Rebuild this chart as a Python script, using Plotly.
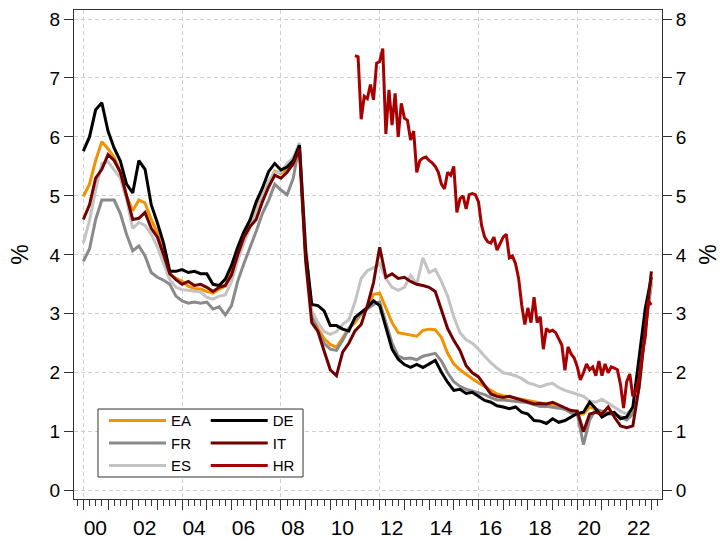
import numpy as np
import plotly.graph_objects as go

# quarterly time index 2000Q1 .. 2023Q1 (decimal years); HR is read at a finer step
t = np.arange(2000, 2023.001, 0.25)
t_hr = np.arange(2011, 2023.001, 0.125)

ea = [4.99, 5.2, 5.6, 5.92, 5.8, 5.65, 5.4, 5.0, 4.75, 4.93, 4.88, 4.6,
      4.37, 4.1, 3.68, 3.6, 3.55, 3.47, 3.43, 3.42, 3.38, 3.35, 3.42, 3.47,
      3.75, 4.05, 4.3, 4.52, 4.8, 5.02, 5.22, 5.42, 5.38, 5.45, 5.52, 5.82,
      4.0, 3.0, 2.75, 2.58, 2.48, 2.43, 2.6, 2.75, 2.85, 3.0, 3.1, 3.33,
      3.35, 3.1, 2.85, 2.68, 2.66, 2.65, 2.62, 2.72, 2.74, 2.73, 2.6, 2.33,
      2.15, 2.05, 1.97, 1.9, 1.83, 1.77, 1.7, 1.64, 1.61, 1.59, 1.57, 1.55,
      1.54, 1.52, 1.5, 1.47, 1.45, 1.42, 1.38, 1.32, 1.3, 1.3, 1.42, 1.38,
      1.3, 1.33, 1.3, 1.25, 1.22, 1.3, 1.9, 2.9, 3.55]

fr = [3.89, 4.1, 4.6, 4.93, 4.93, 4.93, 4.7, 4.35, 4.07, 4.15, 3.98, 3.7,
      3.62, 3.57, 3.5, 3.3, 3.22, 3.18, 3.2, 3.18, 3.2, 3.08, 3.12, 2.98,
      3.14, 3.55, 3.85, 4.12, 4.4, 4.7, 4.92, 5.2, 5.1, 5.02, 5.3, 5.88,
      4.1, 3.0, 2.7, 2.5, 2.4, 2.38, 2.55, 2.75, 2.9, 3.0, 3.08, 3.16,
      3.2, 2.85, 2.5, 2.28, 2.24, 2.25, 2.22, 2.28, 2.3, 2.33, 2.2, 2.0,
      1.85, 1.77, 1.72, 1.69, 1.66, 1.63, 1.58, 1.54, 1.54, 1.53, 1.52, 1.5,
      1.49, 1.46, 1.43, 1.43, 1.42, 1.4, 1.38, 1.32, 1.3, 0.78, 1.2, 1.38,
      1.35, 1.3, 1.3, 1.25, 1.2, 1.3, 1.75, 2.7, 3.5]

es = [4.2, 4.58, 5.1, 5.55, 5.58, 5.45, 5.3, 4.95, 4.45, 4.55, 4.5, 4.35,
      4.13, 3.85, 3.58, 3.45, 3.41, 3.4, 3.38, 3.37, 3.28, 3.25, 3.3, 3.32,
      3.55, 3.9, 4.2, 4.45, 4.72, 5.0, 5.25, 5.4, 5.4, 5.55, 5.65, 5.9,
      4.2, 3.05, 2.85, 2.7, 2.65, 2.7, 2.82, 2.9, 3.2, 3.6, 3.73, 3.78,
      3.85, 3.6, 3.45, 3.4, 3.45, 3.65, 3.5, 3.95, 3.7, 3.75, 3.55, 3.3,
      2.95, 2.68, 2.56, 2.5, 2.4, 2.28, 2.17, 2.08, 2.0, 1.98, 1.95, 1.9,
      1.83, 1.8, 1.76, 1.8, 1.82, 1.75, 1.7, 1.67, 1.64, 1.6, 1.52, 1.5,
      1.55, 1.48, 1.42, 1.35, 1.3, 1.4, 2.0, 2.9, 3.55]

de = [5.76, 6.0, 6.46, 6.58, 6.1, 5.81, 5.59, 5.2, 5.05, 5.6, 5.45, 4.85,
      4.54, 4.2, 3.72, 3.72, 3.75, 3.7, 3.72, 3.68, 3.68, 3.5, 3.48, 3.59,
      3.82, 4.13, 4.39, 4.59, 4.9, 5.13, 5.41, 5.55, 5.44, 5.49, 5.6, 5.86,
      4.07, 3.16, 3.14, 3.05, 2.8, 2.8, 2.74, 2.71, 2.94, 3.02, 3.11, 3.22,
      3.14, 2.77, 2.4, 2.23, 2.14, 2.09, 2.14, 2.09, 2.15, 2.21, 2.01, 1.84,
      1.7, 1.72, 1.65, 1.67, 1.6, 1.53, 1.5, 1.44, 1.42, 1.39, 1.42, 1.33,
      1.3, 1.19, 1.18, 1.14, 1.22, 1.16, 1.19, 1.25, 1.31, 1.33, 1.5, 1.39,
      1.25, 1.31, 1.33, 1.22, 1.25, 1.42, 2.3, 3.08, 3.62]

it = [4.6, 4.85, 5.3, 5.45, 5.7, 5.6, 5.4, 5.0, 4.6, 4.62, 4.72, 4.45,
      4.3, 4.0, 3.68, 3.58, 3.5, 3.55, 3.48, 3.5, 3.45, 3.38, 3.45, 3.48,
      3.66, 4.0, 4.3, 4.48, 4.6, 4.9, 5.15, 5.35, 5.3, 5.4, 5.55, 5.8,
      3.9, 2.85, 2.7, 2.37, 2.05, 1.95, 2.35, 2.5, 2.71, 2.82, 3.14, 3.53,
      4.13, 3.62, 3.68, 3.6, 3.62, 3.55, 3.5, 3.48, 3.45, 3.38, 3.05, 2.75,
      2.55, 2.38, 2.12, 2.0, 1.93, 1.78, 1.64, 1.6, 1.58, 1.6, 1.57, 1.53,
      1.5, 1.47, 1.48, 1.47, 1.5, 1.45, 1.4, 1.36, 1.35, 1.0, 1.3, 1.33,
      1.3, 1.42, 1.25, 1.1, 1.07, 1.1, 1.75, 2.7, 3.72]

hr = [7.38, 7.36, 6.3, 6.69, 6.65, 6.89, 6.63, 7.25,
      7.28, 7.5, 6.05, 6.8, 6.2, 6.74, 6.0, 6.57,
      6.32, 6.28, 5.95, 6.1, 5.4, 5.6, 5.64, 5.66,
      5.6, 5.56, 5.5, 5.4, 5.2, 5.12, 5.4, 5.35,
      5.5, 4.72, 4.95, 5.0, 4.78, 5.02, 5.04, 5.02,
      4.9, 4.5, 4.3, 4.22, 4.2, 4.3, 4.08, 4.2,
      4.3, 4.35, 3.95, 3.98, 3.85, 3.6, 3.15, 2.82,
      3.1, 2.85, 3.28, 2.85, 2.95, 2.4, 2.75, 2.7,
      2.72, 2.68, 2.58, 2.47, 2.04, 2.44, 2.32, 2.25,
      2.1, 1.88, 2.0, 2.15, 2.05, 2.1, 1.95, 2.2,
      1.95, 2.15, 2.0, 2.1, 2.08, 2.05, 1.8, 1.4,
      1.85, 1.98, 1.6, 1.7, 1.9, 2.3, 2.6, 3.22,
      3.15]

years = list(range(2000, 2024))
year_labels = ["%02d" % (y % 100) if (y % 2 == 0 and y <= 2022) else "" for y in years]
grid_years = [2000, 2004, 2008, 2012, 2016, 2020]
y_ticks = list(range(0, 9))

xr = [1999.623, 2023.43]
yr = [-0.141, 8.153]
grid_col = "#cfcfcf"
frame_col = "#333333"

series = [
    ("EA", t, ea, "#f39200", "legend"),
    ("FR", t, fr, "#8a8a8a", "legend"),
    ("ES", t, es, "#c3c3c3", "legend"),
    ("DE", t, de, "#000000", "legend2"),
    ("IT", t, it, "#720000", "legend2"),
    ("HR", t_hr, hr, "#a80000", "legend2"),
]

fig = go.Figure()
# empty helper traces so the grid-only x axis and the right-hand y axis get drawn
fig.add_trace(go.Scatter(x=[], y=[], xaxis="x2", yaxis="y", showlegend=False, hoverinfo="skip"))
fig.add_trace(go.Scatter(x=[], y=[], xaxis="x", yaxis="y2", showlegend=False, hoverinfo="skip"))
for name, x, y, col, leg in series:
    fig.add_trace(go.Scatter(x=x, y=y, mode="lines", name=name, legend=leg,
                             line=dict(color=col, width=3)))

leg_style = dict(xanchor="left", yanchor="top", bgcolor="rgba(0,0,0,0)",
                 borderwidth=0, font=dict(size=15, color="black"),
                 itemwidth=57, tracegroupgap=0)

fig.update_layout(
    width=723, height=538,
    margin=dict(l=74, r=61, t=10, b=39, autoexpand=False),
    paper_bgcolor="white", plot_bgcolor="white",
    font=dict(family="Liberation Sans, Arial, sans-serif", size=19, color="black"),
    xaxis=dict(range=xr, tickmode="array", tickvals=years, ticktext=year_labels,
               ticks="outside", ticklen=10, tickcolor=frame_col, ticklabelshift=12,
               tickfont=dict(size=21), automargin=False,
               showgrid=False, zeroline=False, showline=True, linecolor=frame_col,
               mirror=True,
               minor=dict(dtick=0.25, tick0=2000, ticks="outside", ticklen=6,
                          tickcolor=frame_col, showgrid=False)),
    xaxis2=dict(range=xr, overlaying="x", anchor="y", tickmode="array",
                tickvals=grid_years, showticklabels=False, ticks="",
                showgrid=True, gridcolor=grid_col, griddash="4px,3px",
                zeroline=False, showline=False, automargin=False),
    yaxis=dict(range=yr, tickmode="array", tickvals=y_ticks, ticks="outside",
               ticklen=9, tickcolor=frame_col, showgrid=True, gridcolor=grid_col,
               griddash="4px,3px", zeroline=False, showline=True, automargin=False,
               linecolor=frame_col, title=dict(text="%", standoff=14)),
    yaxis2=dict(range=yr, overlaying="y", side="right", tickmode="array",
                tickvals=y_ticks, ticks="outside", ticklen=9, tickcolor=frame_col,
                showgrid=False, zeroline=False, showline=True, linecolor=frame_col,
                automargin=False, title=dict(text="%", standoff=14)),
    legend=dict(x=0.051, y=0.194, **leg_style),
    legend2=dict(x=0.224, y=0.194, **leg_style),
    shapes=[dict(type="rect", xref="paper", yref="paper",
                 x0=0.0408, x1=0.3895, y0=0.045, y1=0.184,
                 line=dict(color=frame_col, width=1), fillcolor="white",
                 layer="above")],
)

# drop the browser's default 8px page margin so the figure sits at the window origin
fig.write_html("out.html", config={"displayModeBar": False},
               post_script="document.body.style.margin='0';")
